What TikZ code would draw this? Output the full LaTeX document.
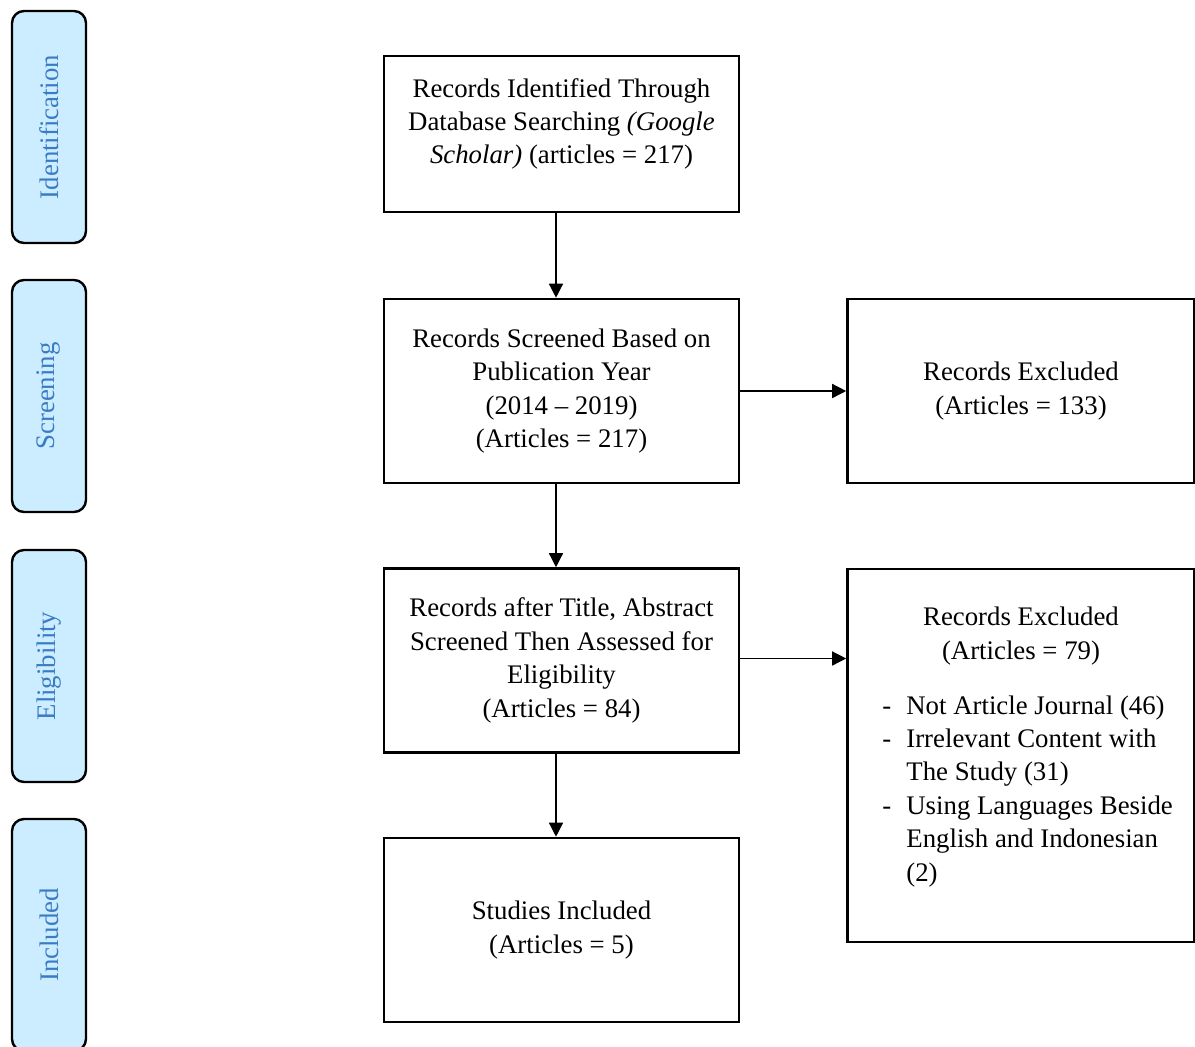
\documentclass[tikz,border=0pt]{standalone}
\usepackage{fontspec}
\setmainfont{Liberation Serif}
\usetikzlibrary{arrows.meta}
\definecolor{tabfill}{RGB}{204,236,255}
\definecolor{tabtext}{RGB}{58,124,196}

\begin{document}
\begin{tikzpicture}[x=0.5pt,y=-0.5pt,
    every node/.style={font=\fontsize{13.4}{16.7}\selectfont},
    box/.style={draw, line width=1.3pt, minimum width=177.5pt, minimum height=92pt, align=center, inner sep=0pt},
    tab/.style={draw, line width=1.2pt, rounded corners=6pt, fill=tabfill, minimum width=37pt, minimum height=116pt},
    tabtxt/.style={rotate=90, text=tabtext},
    flow/.style={-{Triangle[length=7pt,width=7pt]}, line width=0.7pt}]
        \clip (0,0) rectangle (1195,1046);
        \useasboundingbox (0,0) rectangle (1195,1046);
        % etapas a la izquierda
        \node[tab] (tabident) at (49,127) {};
        \node[tabtxt] (tabidenttxt) at (tabident.center) {Identification};
        \node[tab] (tabscreen) at (49,396) {};
        \node[tabtxt] (tabscreentxt) at (tabscreen.center) {Screening};
        \node[tab] (tabelig) at (49,666) {};
        \node[tabtxt] (tabeligtxt) at (tabelig.center) {Eligibility};
        \node[tab] (tabincl) at (49,935) {};
        \node[tabtxt] (tabincltxt) at (tabincl.center) {Included};
        % cajas centrales
        \node[box, minimum height=78pt] (ident) at (561.5,134) {};
        \node[align=center] (identtxt) at (561.5,124) {Records Identified Through\\Database Searching \textit{(Google}\\\textit{Scholar)} (articles = 217)};
        \node[box] (screen) at (561.5,391) {Records Screened Based on\\Publication Year\\(2014 -- 2019)\\(Articles = 217)};
        \node[box] (elig) at (561.5,660.5) {Records after Title, Abstract\\Screened Then Assessed for\\Eligibility\\(Articles = 84)};
        \node[box] (incl) at (561.5,930) {Studies Included\\(Articles = 5)};
        % cajas de excluidos
        \node[box, minimum width=173.5pt] (excl1) at (1021,391) {Records Excluded\\(Articles = 133)};
        \node[box, minimum width=173.5pt, minimum height=186.5pt] (excl2) at (1021,755.5) {};
        \node[align=center] (excl2head) at (1021,636) {Records Excluded\\(Articles = 79)};
        \node[anchor=base west, inner sep=0pt] (reasons) at (882,714) {\begin{tabular}[t]{@{}p{12pt}@{}l@{}}
            - & Not Article Journal (46)\\
            - & Irrelevant Content with\\
              & The Study (31)\\
            - & Using Languages Beside\\
              & English and Indonesian\\
              & (2)
          \end{tabular}};
        % flechas
        \draw[flow] ([xshift=-2.75pt]ident.south) -- ([xshift=-2.75pt]screen.north);
        \draw[flow] ([xshift=-2.75pt]screen.south) -- ([xshift=-2.75pt]elig.north);
        \draw[flow] ([xshift=-2.75pt]elig.south) -- ([xshift=-2.75pt]incl.north);
        \draw[flow] (screen.east) -- (excl1.west);
        \draw[flow] ([yshift=1pt]elig.east) -- ([yshift=1pt]elig.east -| excl2.west);
\end{tikzpicture}
\end{document}
